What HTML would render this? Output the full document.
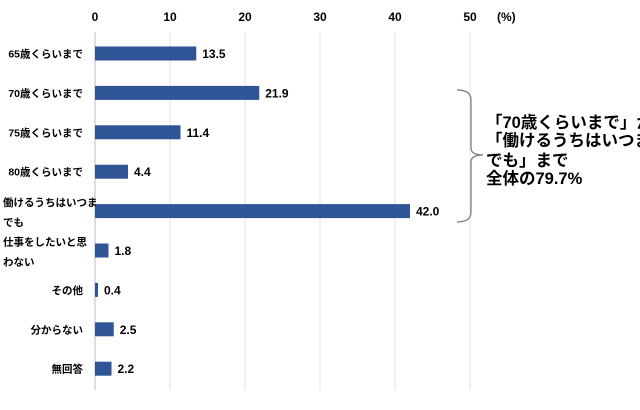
<!DOCTYPE html>
<html><head><meta charset="utf-8"><style>
body{margin:0;background:#fff;}
svg text{font-family:"Liberation Sans","Noto Sans CJK JP",sans-serif;font-weight:bold;fill:#000;}
</style></head><body>
<svg id="chart" width="640" height="405" xmlns="http://www.w3.org/2000/svg">
<g id="grid"></g><g id="bars"></g><g id="labels"></g>
<path d="M457,90 Q471,90 471,100 L471,148 Q471,155 483,155 Q471,155 471,162 L471,212 Q471,222 457,222" fill="none" stroke="#777" stroke-width="1.2"/>
<g font-size="16.5">
<text x="486" y="128">「70歳くらいまで」から</text>
<text x="486" y="146">「働けるうちはいつま</text>
<text x="486" y="166">でも」まで</text>
<text x="486" y="184">全体の79.7%</text>
</g>
</svg>
<script>
const categories=["65歳くらいまで","70歳くらいまで","75歳くらいまで","80歳くらいまで","働けるうちはいつま|でも","仕事をしたいと思|わない","その他","分からない","無回答"];
const values=[13.5,21.9,11.4,4.4,42.0,1.8,0.4,2.5,2.2];
const ticks=[0,10,20,30,40,50];
const NS="http://www.w3.org/2000/svg";
const x=v=>95+v*7.5;
const y=i=>53.5+i*39.4;
function mk(tag,attrs,parent,txt){const e=document.createElementNS(NS,tag);for(const k in attrs)e.setAttribute(k,attrs[k]);if(txt!==undefined)e.textContent=txt;document.getElementById(parent).appendChild(e);return e;}
ticks.forEach(t=>{
 const l=mk('line',{x1:x(t),x2:x(t),y1:32,y2:390,stroke:t===0?'#bbb':'#e0e0e0','stroke-width':1},'grid');
 
 
 const tx=mk('text',{x:x(t),y:21,'text-anchor':'middle','font-size':12},'labels',String(t));
 
 
});
const u=mk('text',{x:497,y:21,'font-size':12},'labels','(%)');


categories.forEach((c,i)=>{
 const b=mk('rect',{x:x(0),y:y(i)-7,width:x(values[i])-x(0),height:14,fill:'#2f5597'},'bars');
 
 
 const v=mk('text',{x:x(values[i])+6,y:y(i)+4.5,'font-size':12},'labels',values[i].toFixed(1));
 
 
 const parts=c.split('|');
 const cat=mk('text',{'font-size':10.5},'labels');
 
 
 if(parts.length===1){
  const s=mk('tspan',{x:83,y:y(i)+4,'text-anchor':'end'},'labels',parts[0]);cat.appendChild(s);
 }else{
  const s1=document.createElementNS(NS,'tspan');s1.setAttribute('x',3);s1.setAttribute('y',y(i)-5);s1.textContent=parts[0];cat.appendChild(s1);
  const s2=document.createElementNS(NS,'tspan');s2.setAttribute('x',3);s2.setAttribute('y',y(i)+15);s2.textContent=parts[1];cat.appendChild(s2);
 }
});
</script>
</body></html>
